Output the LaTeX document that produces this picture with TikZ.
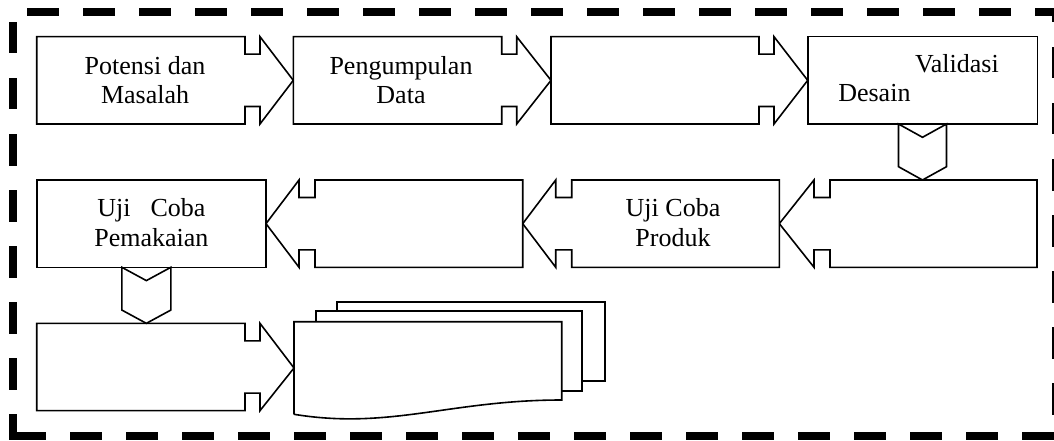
\documentclass[tikz,border=0pt]{standalone}
\usepackage{fontspec}
\setmainfont{Liberation Serif}
\usetikzlibrary{calc}

% block with a notched arrow pointing right to the next block
\newcommand\rightblock[2]{%
  \draw[outline] (#1.north west) -- (#1.north east) -- ++(0,17.5) -- ++(15,0) -- ++(0,-17.5)
    -- (#2.west) -- ($(#1.south east)+(15,0)$) -- ++(0,-17.5) -- ++(-15,0)
    -- (#1.south east) -- (#1.south west) -- cycle;}
% block with a notched arrow pointing left to the next block
\newcommand\leftblock[2]{%
  \draw[outline] (#1.north east) -- (#1.north west) -- ++(0,17.5) -- ++(-16,0) -- ++(0,-17.5)
    -- (#2.east) -- ($(#1.south west)+(-16,0)$) -- ++(0,-17.5) -- ++(16,0)
    -- (#1.south west) -- (#1.south east) -- cycle;}
% downward chevron from a top point to a tip point
\newcommand\downchevron[3]{% #1 top centre, #2 tip, #3 half width
  \draw[outline] ($(#1)+(-#3,0)$) -- ($(#1)+(0,13.3)$) -- ($(#1)+(#3,0)$)
    -- ($(#2)+(#3,-13.3)$) -- (#2) -- ($(#2)+(-#3,-13.3)$) -- cycle;}

\begin{document}
\begin{tikzpicture}[x=1pt,y=-1pt,
  outline/.style={draw=black, line width=1.6pt, line join=miter, fill=white},
  body/.style={draw=none, inner sep=0pt, outer sep=0pt, minimum height=87.3pt, minimum width=#1},
  txt/.style={inner sep=0pt, outer sep=0pt, align=center, font=\fontsize{26}{29.5}\selectfont},
  border/.style={line width=7.5pt, dash pattern=on 24pt off 32pt, line cap=rect}]
\useasboundingbox (0,0) rectangle (1054,441);
\clip (0,0) rectangle (1054,441);

% dashed frame
\draw[border, dash phase=38.25pt] (13,12) -- (1056,12) -- (1056,436);
\draw[border, dash phase=42.25pt] (13,12) -- (13,436);
\draw[border, dash phase=51.25pt] (13,436) -- (1056,436);

% block bodies
\node[body=208.3pt] (b1) at (140.85,80.35) {};
\node[body=208.4pt] (b2) at (397.5,80.35) {};
\node[body=208pt]   (b3) at (655,80.35) {};
\node[body=229.6pt] (b4) at (922.5,80.35) {};
\node[body=207pt]   (b5) at (933.5,223.65) {};
\node[body=207.6pt] (b6) at (675.5,223.65) {};
\node[body=207.7pt] (b7) at (418.85,223.65) {};
\node[body=229.3pt] (b8) at (151.35,223.65) {};
\node[body=208.3pt] (b9) at (140.85,367) {};
\node[draw=none, inner sep=0pt, outer sep=0pt, minimum width=267.7pt, minimum height=92.6pt] (doc) at (427.85,368) {};

% first row
\rightblock{b1}{b2}
\rightblock{b2}{b3}
\rightblock{b3}{b4}
\draw[outline] (b4.north west) rectangle (b4.south east);

% second row
\leftblock{b5}{b6}
\leftblock{b6}{b7}
\leftblock{b7}{b8}
\draw[outline] (b8.north west) rectangle (b8.south east);

% third row
\rightblock{b9}{doc}

% chevrons between rows
\coordinate (v1) at (b4.south |- b5.north);
\downchevron{b4.south}{v1}{24}
\coordinate (s2) at ([xshift=-5pt]b8.south);
\coordinate (v2) at (s2 |- b9.north);
\downchevron{s2}{v2}{24.5}

% stacked documents
\draw[outline, fill=none] ($(doc.north west)+(42.7,-10.3)$) -- ($(doc.north west)+(42.7,-20)$)
  -- ($(doc.north east)+(43.3,-20)$) -- ($(doc.north east)+(43.3,59)$) -- ($(doc.north east)+(20.3,59)$);
\draw[outline, fill=none] ($(doc.north west)+(22,0)$) -- ($(doc.north west)+(22,-10.7)$)
  -- ($(doc.north east)+(20.3,-10.7)$) -- ($(doc.north east)+(20.3,69)$) -- ($(doc.north east)+(0,69)$);
\draw[outline, fill=none] (doc.south west) -- (doc.north west) -- (doc.north east) -- ($(doc.north east)+(0,78.3)$)
  .. controls ($(doc.north east)+(-111.7,78.3)$) and ($(doc.south west)+(96,15.7)$) .. (doc.south west);

% labels
\node[txt] (t1) at ([xshift=4.2pt]b1.center) {Potensi dan\\Masalah};
\node[txt] (t2) at ([xshift=3.5pt]b2.center) {Pengumpulan\\Data};
\node[txt, align=left, anchor=west] (t4) at ([xshift=-84.2pt, yshift=2pt]b4.center) {\hspace*{76.7pt}Validasi\\Desain};
\node[txt] (t6) at ([xshift=-2.5pt, yshift=1pt]b6.center) {Uji Coba\\Produk};
\node[txt] (t8) at ([xshift=0pt, yshift=1pt]b8.center) {Uji\hspace{20pt}Coba\\Pemakaian};
\end{tikzpicture}
\end{document}
